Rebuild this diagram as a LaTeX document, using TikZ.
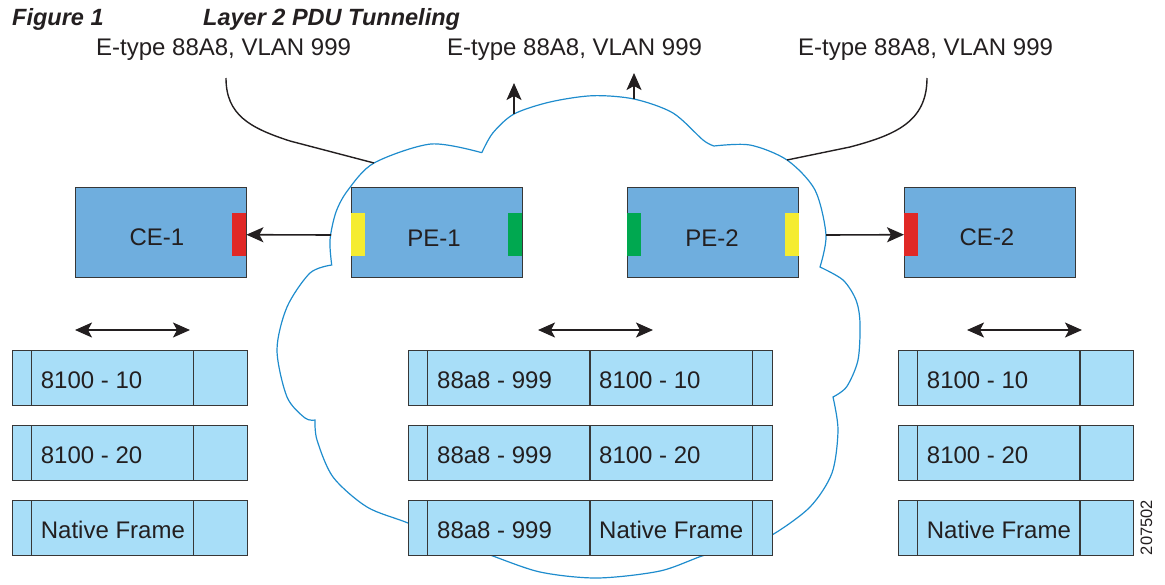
\documentclass[tikz,border=0pt]{standalone}
\usepackage{fontspec}
\setmainfont{Liberation Sans}
\usetikzlibrary{arrows.meta}
\definecolor{devblue}{RGB}{111,174,222}
\definecolor{frameblue}{RGB}{168,222,248}
\definecolor{cloudblue}{RGB}{30,140,205}
\definecolor{portred}{RGB}{224,40,38}
\definecolor{portyellow}{RGB}{245,236,48}
\definecolor{portgreen}{RGB}{0,168,80}
\definecolor{ink}{RGB}{35,31,32}
\definecolor{edgegray}{RGB}{55,55,55}
\begin{document}
\begin{tikzpicture}[x=1pt,y=-1pt,
  devbox/.style={draw=edgegray, line width=1.2pt, fill=devblue, minimum width=171pt, minimum height=90pt, inner sep=0pt, anchor=north west},
  port/.style={inner sep=0pt, minimum height=43pt, minimum width=14pt, anchor=north west},
  framebox/.style={draw=edgegray, line width=1.2pt, fill=frameblue, minimum height=55pt, inner sep=0pt, anchor=north west},
  divider/.style={draw=edgegray, line width=1.2pt},
  txt/.style={text=ink, inner sep=0pt, font=\fontsize{24}{28}\selectfont},
  ttl/.style={text=ink, inner sep=0pt, font=\fontsize{23.5}{27}\selectfont\bfseries\itshape},
  conn/.style={draw=ink, line width=1.4pt},
  arr/.style={draw=ink, line width=1.6pt, -{Stealth[length=17pt,width=15pt,inset=4pt]}},
  darr/.style={draw=ink, line width=1.6pt, {Stealth[length=17pt,width=15pt,inset=4pt]}-{Stealth[length=17pt,width=15pt,inset=4pt]}},
  cloudline/.style={draw=cloudblue, line width=1.2pt, line join=miter}
]
\useasboundingbox (0,0) rectangle (1165,584);

% cloud
\draw[cloudline]
  plot[smooth] coordinates {(481.8,152.7) (492.8,133) (514,114) (550,102) (592.7,95.7) (634,99) (673,113) (703,140) (714,146)}
  -- plot[smooth] coordinates {(714,146) (750,145) (787,160) (815,190) (826,235) (820,267)}
  -- plot[smooth] coordinates {(820,267) (843,280) (856,300) (860,323) (858,360) (846.7,386.7) (833,397)}
  -- plot[smooth] coordinates {(833,397) (838,430) (832,473) (810,507) (772,535) (740,548)}
  -- plot[smooth] coordinates {(740,548) (705,555) (660,571) (597,578) (540,572) (490,555) (460,545)}
  -- plot[smooth] coordinates {(460,545) (408,523) (367,507) (333,477) (317,440) (315,420)}
  -- plot[smooth] coordinates {(315,420) (305,418) (287,397) (277,350) (287,307) (310,273) (331.7,265)}
  -- plot[smooth] coordinates {(331.7,265) (330,240) (336,212) (348,190) (374,163) (431,144) (481.8,152.7)};

% title
\node[ttl, anchor=base west] (fig) at (12,25) {Figure 1};
\node[ttl, anchor=base west] (title) at (203,25) {Layer 2 PDU Tunneling};

% labels
\node[txt, anchor=base west] (lab1) at (96,55) {E-type 88A8, VLAN 999};
\node[txt, anchor=base west] (lab2) at (447,55) {E-type 88A8, VLAN 999};
\node[txt, anchor=base west] (lab3) at (798,55) {E-type 88A8, VLAN 999};

% connector end points
\coordinate (l1a) at (226,78);
\coordinate (l1b) at (374,163);
\coordinate (l3a) at (927,78);
\coordinate (l3b) at (787,160);
\coordinate (up1a) at (514,114);
\coordinate (up1b) at (514,83);
\coordinate (up2a) at (634,99);
\coordinate (up2b) at (634,73);
\coordinate (cw) at (331,235);
\coordinate (ce) at (826,235);

\draw[conn] (l1a) .. controls (226,115) and (250,128) .. (290,141) -- (l1b);
\draw[conn] (l3a) .. controls (927,122) and (895,135) .. (850,147) -- (l3b);
\draw[arr] (up1a) -- (up1b);
\draw[arr] (up2a) -- (up2b);

% devices
\node[devbox] (ce1) at (75,187) {};
\node[port, fill=portred] (ce1p) at (232,213) {};
\node[txt, anchor=base] (ce1t) at (157,245) {CE-1};

\node[devbox] (pe1) at (351,187) {};
\node[port, fill=portyellow] (pe1y) at (351,213) {};
\node[port, fill=portgreen] (pe1g) at (508,213) {};
\node[txt, anchor=base] (pe1t) at (434,246) {PE-1};

\node[devbox] (pe2) at (627,187) {};
\node[port, fill=portgreen] (pe2g) at (627,213) {};
\node[port, fill=portyellow] (pe2y) at (785,213) {};
\node[txt, anchor=base] (pe2t) at (712,246) {PE-2};

\node[devbox] (ce2) at (904,187) {};
\node[port, fill=portred] (ce2p) at (904,213) {};
\node[txt, anchor=base] (ce2t) at (987,245) {CE-2};

\draw[arr] (cw) -- (ce1p.east);
\draw[arr] (ce) -- (ce2p.west);

% double arrows
\coordinate (d1a) at (75,330); \coordinate (d1b) at (190,330);
\coordinate (d2a) at (538,330); \coordinate (d2b) at (653,330);
\coordinate (d3a) at (967,330); \coordinate (d3b) at (1082,330);
\draw[darr] (d1a) -- (d1b);
\draw[darr] (d2a) -- (d2b);
\draw[darr] (d3a) -- (d3b);

% left frames
\foreach \y/\t [count=\i] in {350/8100 - 10, 425/8100 - 20, 500/Native Frame}{
  \node[framebox, minimum width=235pt] (lf\i) at (12,\y) {};
  \draw[divider] (31.3,\y) -- (31.3,\y+55);
  \draw[divider] (193.7,\y) -- (193.7,\y+55);
  \node[txt, anchor=base west] (lft\i) at (40.7,\y+38) {\t};
}
% middle frames
\foreach \y/\t [count=\i] in {350/8100 - 10, 425/8100 - 20, 500/Native Frame}{
  \node[framebox, minimum width=364pt] (mf\i) at (408,\y) {};
  \draw[divider] (427.7,\y) -- (427.7,\y+55);
  \draw[divider] (590,\y) -- (590,\y+55);
  \draw[divider] (752.7,\y) -- (752.7,\y+55);
  \node[txt, anchor=base west] (mfa\i) at (437,\y+38) {88a8 - 999};
  \node[txt, anchor=base west] (mfb\i) at (599,\y+38) {\t};
}
% right frames
\foreach \y/\t [count=\i] in {350/8100 - 10, 425/8100 - 20, 500/Native Frame}{
  \node[framebox, minimum width=235pt] (rf\i) at (898,\y) {};
  \draw[divider] (917.7,\y) -- (917.7,\y+55);
  \draw[divider] (1080,\y) -- (1080,\y+55);
  \node[txt, anchor=base west] (rft\i) at (926.7,\y+38) {\t};
}

\node[text=ink, inner sep=0pt, rotate=90, font=\fontsize{16.5}{18}\selectfont] (num) at (1146.5,527.5) {207502};
\end{tikzpicture}
\end{document}
